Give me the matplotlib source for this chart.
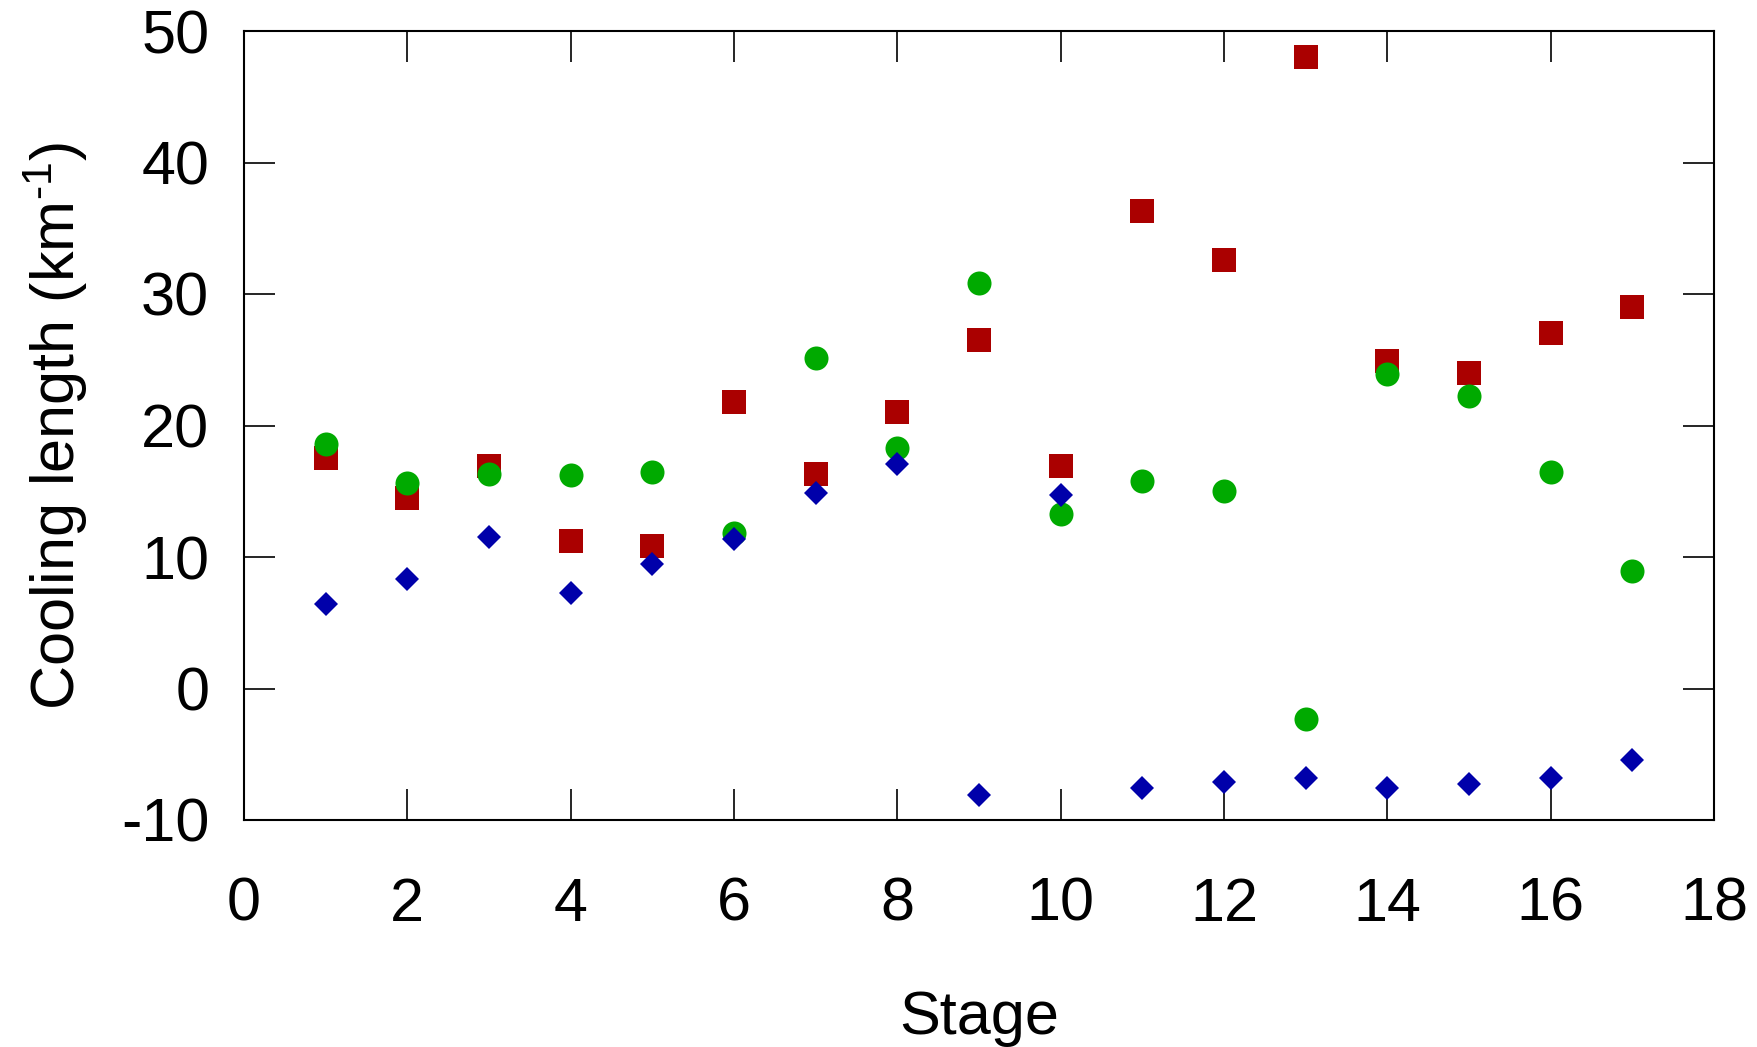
import numpy as np
import matplotlib.pyplot as plt

plt.rcParams['font.family'] = ['Liberation Sans', 'DejaVu Sans']
plt.rcParams['axes.unicode_minus'] = False
plt.rcParams['mathtext.fontset'] = 'custom'
plt.rcParams['mathtext.rm'] = 'Liberation Sans'
plt.rcParams['mathtext.it'] = 'Liberation Sans'

stage = np.arange(1, 18)
red_sq = [17.5, 14.5, 16.9, 11.25, 10.8, 21.8, 16.3, 21.0, 26.5, 16.9,
          36.3, 32.6, 48.0, 24.9, 24.0, 27.0, 29.0]
green_circ = [18.6, 15.6, 16.3, 16.2, 16.5, 11.85, 25.1, 18.3, 30.8, 13.3,
              15.8, 15.0, -2.3, 23.9, 22.25, 16.45, 8.95]
blue_dia = [6.4, 8.3, 11.5, 7.3, 9.5, 11.4, 14.9, 17.1, -8.1, 14.75,
            -7.6, -7.1, -6.8, -7.6, -7.25, -6.8, -5.4]

fig = plt.figure(figsize=(17.58, 10.47), dpi=100)
# axes box: x 244..1714 px, y 31..820 px
ax = fig.add_axes([244 / 1758, 1 - 820 / 1047, 1470 / 1758, 789 / 1047])

ax.plot(stage, red_sq, 's', color='#aa0000', ms=17.3, mew=0)
ax.plot(stage, green_circ, 'o', color='#00aa00', ms=17.3, mew=0)
ax.plot(stage, blue_dia, 'D', color='#0000aa', ms=12.3, mew=0)

ax.set_xlim(0, 18)
ax.set_ylim(-10, 50)
ax.set_xticks(np.arange(0, 19, 2))
ax.set_yticks(np.arange(-10, 51, 10))
ax.tick_params(direction='in', length=22, width=1.2, top=True, right=True,
               labelsize=44)
ax.tick_params(axis='x', pad=41)
ax.tick_params(axis='y', pad=25)
for s in ax.spines.values():
    s.set_linewidth(1.5)

ax.set_xlabel('Stage', fontsize=44)
ax.set_ylabel(r'Cooling length (km$^{\text{-1}}$)', fontsize=44)
ax.xaxis.set_label_coords(0.5, -0.215)
ax.yaxis.set_label_coords(-0.105, 0.5)

fig.savefig('out.png', dpi=100)
